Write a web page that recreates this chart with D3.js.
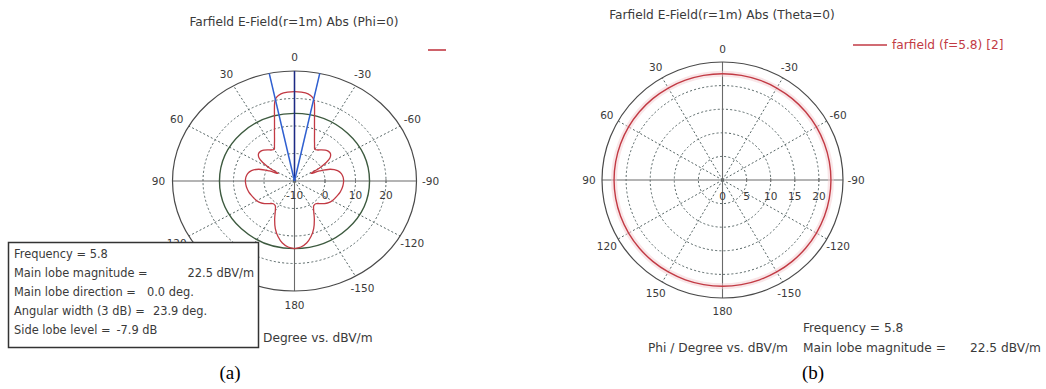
<!DOCTYPE html>
<html><head><meta charset="utf-8">
<script src="https://cdn.jsdelivr.net/npm/d3@7"></script>
<style>
body{margin:0;background:#fff}
svg{display:block}
text{font-family:"DejaVu Sans",sans-serif;fill:#3a3a3a}
</style>
</head><body>
<svg id="chart" width="1046" height="389"></svg>
<script>
// ---------- data ----------
const angleLabels = [0, 30, 60, 90, 120, 150, 180, -150, -120, -90, -60, -30];
const radialTicksA = [-10, 0, 10, 20];
const radialTicksB = [0, 5, 10, 15, 20];
const gridAnglesA = [30, 60, 120, 150, -30, -60, -120, -150];
const gridAnglesB = [30, 60, 120, 150, -30, -60, -120, -150];
const gridRingsA = [0, 10, 20];
const gridRingsB = [5, 10, 15, 20];

// (a) Phi=0 cut: theta (deg) vs dBV/m
const thetaA = [-180,-175,-170,-165,-160,-155,-150,-145,-140,-135,-130,-125,-120,-115,-110,-105,-100,-95,-90,-85,-80,-75,-70,-66,-63,-60,-57,-54,-50,-46,-42,-38,-34,-30,-28,-26,-24,-22,-20,-18,-16,-14,-13,-12,-11,-8,-4,
  0,4,8,11,12,13,14,16,18,20,22,24,26,28,30,34,38,42,46,50,54,57,60,63,66,70,75,80,85,90,95,100,105,110,115,120,125,130,135,140,145,150,155,160,165,170,175,180];
const fieldA = [14.6,14.1,12.9,10.9,8.4,5.4,2.6,1.0,0.8,1.6,2.8,3.7,4.3,4.7,5.1,5.5,5.8,6.0,6.1,6.0,5.6,4.6,2.5,-1.0,-4.0,-0.5,2.5,4.4,5.4,5.5,5.1,4.4,3.6,3.3,4.0,5.0,6.1,7.5,9.2,11.2,13.8,17.2,19.0,20.2,21.0,22.0,22.4,
  22.5,22.4,22.0,21.0,20.2,19.0,17.2,13.8,11.2,9.2,7.5,6.1,5.0,4.0,3.3,3.6,4.4,5.1,5.5,5.4,4.4,2.5,-0.5,-4.0,-1.0,2.5,4.6,5.6,6.0,6.1,6.0,5.8,5.5,5.1,4.7,4.3,3.7,2.8,1.6,0.8,1.0,2.6,5.4,8.4,10.9,12.9,14.1,14.6];
const mainLobeA = 22.5, sideLobeLevelA = -7.9, beamWidthA = 23.9, mainDirA = 0.0;

// (b) Theta=0 cut: phi (deg) vs dBV/m
const phiB = [0,10,20,30,40,50,60,70,80,90,100,110,120,130,140,150,160,170,180,190,200,210,220,230,240,250,260,270,280,290,300,310,320,330,340,350];
const fieldB = [22.5,22.5,22.5,22.5,22.5,22.5,22.5,22.5,22.5,22.5,22.5,22.5,22.5,22.5,22.5,22.5,22.5,22.5,22.5,22.5,22.5,22.5,22.5,22.5,22.5,22.5,22.5,22.5,22.5,22.5,22.5,22.5,22.5,22.5,22.5,22.5];

const infoLabelsA = ["Frequency = 5.8", "Main lobe magnitude =", "Main lobe direction =", "Angular width (3 dB) =", "Side lobe level ="];
const infoValuesA = ["", "22.5 dBV/m", "0.0 deg.", "23.9 deg.", "-7.9 dB"];

// ---------- drawing ----------
const svg = d3.select("#chart");
const RED = "#c23a44";
const FS = 12.2, FB = 11.4, FL = 10.5;

function makePolar(cfg) {
  const g = svg.append("g");
  const k = cfg.ry / cfg.rx;
  const r = d3.scaleLinear().domain(cfg.domain).range([0, cfg.rx]);
  const rad = d => d * Math.PI / 180;
  const px = (a, rr) => cfg.cx - rr * Math.sin(rad(a));
  const py = (a, rr) => cfg.cy - rr * k * Math.cos(rad(a));
  const ring = v => g.append("ellipse").attr("cx", cfg.cx).attr("cy", cfg.cy)
      .attr("rx", r(v)).attr("ry", r(v) * k);

  cfg.rings.forEach(v => ring(v).attr("fill", "none").attr("stroke", "#556464")
      .attr("stroke-width", 1).attr("stroke-dasharray", "2,2.2"));
  cfg.spokes.forEach(a => g.append("line")
      .attr("x1", cfg.cx).attr("y1", cfg.cy)
      .attr("x2", px(a, cfg.rx)).attr("y2", py(a, cfg.rx))
      .attr("stroke", "#556464").attr("stroke-width", 1).attr("stroke-dasharray", "2,2.2"));
  [0, 90].forEach(a => g.append("line")
      .attr("x1", px(a, cfg.rx)).attr("y1", py(a, cfg.rx))
      .attr("x2", px(a + 180, cfg.rx)).attr("y2", py(a + 180, cfg.rx))
      .attr("stroke", "#6a6a6a").attr("stroke-width", 1.1));
  ring(cfg.domain[1]).attr("fill", "none").attr("stroke", "#4a4a4a").attr("stroke-width", 1.2);

  g.selectAll("text.ang").data(angleLabels).join("text").attr("class", "ang")
    .attr("x", a => cfg.cx - (cfg.rx + cfg.off) * Math.sin(rad(a)))
    .attr("y", a => cfg.cy - (cfg.ry + cfg.off) * Math.cos(rad(a)))
    .attr("text-anchor", "middle").attr("dominant-baseline", "central")
    .attr("font-size", FL).text(d => d);
  g.selectAll("text.rt").data(cfg.ticks).join("text").attr("class", "rt")
    .attr("x", v => cfg.cx + r(v)).attr("y", cfg.cy + cfg.tickDy)
    .attr("text-anchor", "middle").attr("dominant-baseline", "central")
    .attr("font-size", FL).text(d => d);
  g.selectAll("line.tm").data(cfg.ticks.filter(v => v !== cfg.domain[0])).join("line").attr("class", "tm")
    .attr("x1", v => cfg.cx + r(v)).attr("x2", v => cfg.cx + r(v))
    .attr("y1", cfg.cy - 2).attr("y2", cfg.cy + 2).attr("stroke", "#777");
  return {g, r, px, py, k};
}

// ----- (a) -----
const A = makePolar({cx: 294.5, cy: 181, rx: 122, ry: 110, domain: [-10, 30],
  rings: gridRingsA, spokes: gridAnglesA, ticks: radialTicksA, off: 14, tickDy: 14});

A.g.append("ellipse").attr("cx", 294.5).attr("cy", 181)
  .attr("rx", A.r(mainLobeA + sideLobeLevelA)).attr("ry", A.r(mainLobeA + sideLobeLevelA) * A.k)
  .attr("fill", "none").attr("stroke", "#3d5a3f").attr("stroke-width", 1.4);

const lineA = d3.line()
  .x((d, i) => A.px(thetaA[i], A.r(d)))
  .y((d, i) => A.py(thetaA[i], A.r(d)))
  .curve(d3.curveCatmullRom.alpha(0.5));
A.g.append("path").attr("d", lineA(fieldA)).attr("fill", "none")
  .attr("stroke", RED).attr("stroke-width", 1.3);

const outerA = A.r(30);
[[mainDirA, "#1c2a86"], [mainDirA + beamWidthA / 2, "#2f5fd0"], [mainDirA - beamWidthA / 2, "#2f5fd0"]]
  .forEach(([a, c]) => A.g.append("line")
    .attr("x1", 294.5).attr("y1", 181)
    .attr("x2", A.px(a, outerA)).attr("y2", A.py(a, outerA))
    .attr("stroke", c).attr("stroke-width", 1.5));

svg.append("text").attr("x", 294).attr("y", 26).attr("text-anchor", "middle")
  .attr("font-size", FS).text("Farfield E-Field(r=1m) Abs (Phi=0)");
svg.append("line").attr("x1", 428).attr("x2", 446).attr("y1", 50).attr("y2", 50)
  .attr("stroke", RED).attr("stroke-width", 1.6);

// info box
svg.append("rect").attr("x", 8.5).attr("y", 242.5).attr("width", 250).attr("height", 105)
  .attr("fill", "#fff").attr("stroke", "#333").attr("stroke-width", 1.5);
const valX = [null, null, 147, 153, 115];
infoLabelsA.forEach((lab, i) => {
  const y = 257.5 + i * 19.2;
  const t = svg.append("text").attr("x", 14).attr("y", y).attr("font-size", FB).text(lab);
  const w = t.node().getComputedTextLength();
  if (infoValuesA[i]) {
    const v = svg.append("text").attr("y", y).attr("font-size", FB).text(infoValuesA[i]);
    if (i === 1) v.attr("x", 254).attr("text-anchor", "end");
    else v.attr("x", Math.max(valX[i], 14 + w + 6));
  }
});
svg.append("text").attr("x", 263).attr("y", 342).attr("font-size", FS).text("Degree vs. dBV/m");

// ----- (b) -----
const B = makePolar({cx: 722.5, cy: 180, rx: 120.5, ry: 118, domain: [0, 25],
  rings: gridRingsB, spokes: gridAnglesB, ticks: radialTicksB, off: 13, tickDy: 16});
const lineB = d3.line()
  .x((d, i) => B.px(phiB[i], B.r(d)))
  .y((d, i) => B.py(phiB[i], B.r(d)))
  .curve(d3.curveCatmullRomClosed);
B.g.append("path").attr("d", lineB(fieldB)).attr("fill", "none")
  .attr("stroke", "#f3cdd1").attr("stroke-width", 6).attr("opacity", 0.5);
B.g.append("path").attr("d", lineB(fieldB)).attr("fill", "none")
  .attr("stroke", RED).attr("stroke-width", 1.4);

svg.append("text").attr("x", 722).attr("y", 19).attr("text-anchor", "middle")
  .attr("font-size", FS).text("Farfield E-Field(r=1m) Abs (Theta=0)");
svg.append("line").attr("x1", 853).attr("x2", 887).attr("y1", 45).attr("y2", 45)
  .attr("stroke", RED).attr("stroke-width", 1.6);
svg.append("text").attr("x", 892).attr("y", 49).attr("font-size", FS)
  .style("fill", RED).text("farfield (f=5.8) [2]");

svg.append("text").attr("x", 803).attr("y", 332).attr("font-size", FS).text("Frequency = 5.8");
svg.append("text").attr("x", 648).attr("y", 352).attr("font-size", FS).text("Phi / Degree vs. dBV/m");
svg.append("text").attr("x", 803).attr("y", 352).attr("font-size", FS).text("Main lobe magnitude =");
svg.append("text").attr("x", 1041).attr("y", 352).attr("text-anchor", "end").attr("font-size", FS).text("22.5 dBV/m");

// captions
svg.append("text").attr("x", 230).attr("y", 379).attr("text-anchor", "middle")
  .style("font-family", "'Liberation Serif','Times New Roman',serif").style("fill", "#000")
  .attr("font-size", 19).text("(a)");
svg.append("text").attr("x", 813).attr("y", 379).attr("text-anchor", "middle")
  .style("font-family", "'Liberation Serif','Times New Roman',serif").style("fill", "#000")
  .attr("font-size", 19).text("(b)");
</script>
</body></html>
